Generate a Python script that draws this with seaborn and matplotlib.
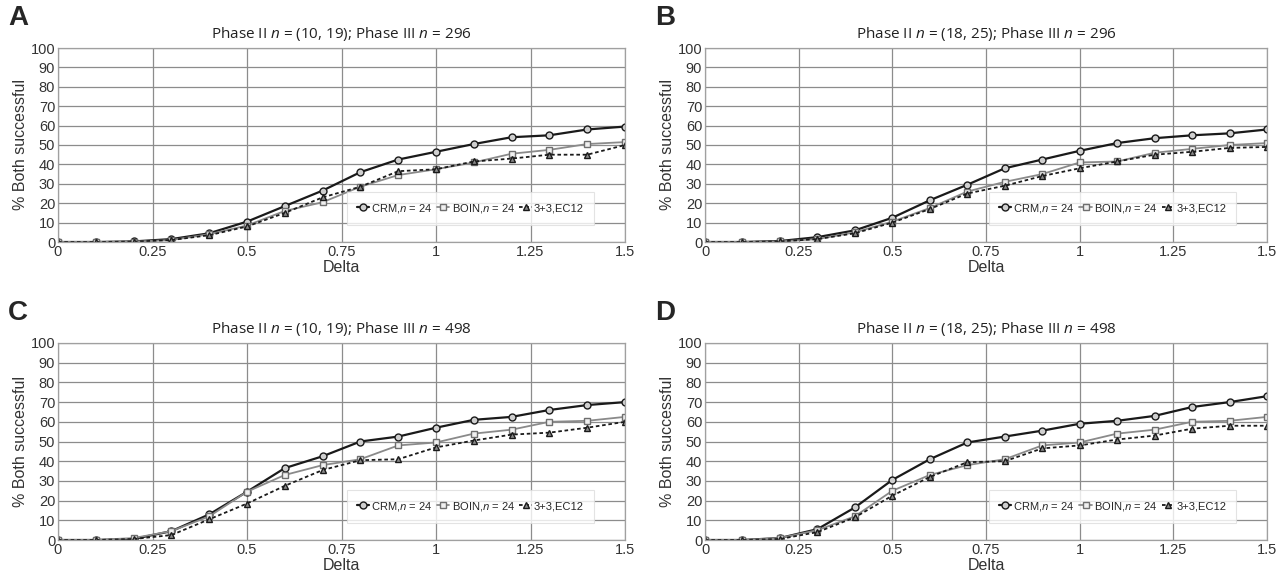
import matplotlib

matplotlib.use("Agg")
import matplotlib.pyplot as plt
import numpy as np
import pandas as pd
import seaborn as sns

DELTA = [0.0, 0.1, 0.2, 0.3, 0.4, 0.5, 0.6, 0.7, 0.8, 0.9, 1.0, 1.1, 1.2, 1.3, 1.4, 1.5]

# % both successful
CRM_A = [0, 0, 0.3, 1.5, 4.5, 10.5, 18.5, 26.5, 36, 42.5, 46.5, 50.5, 54, 55, 58, 59.5]
BOIN_A = [0, 0, 0.2, 1, 4, 8.5, 16, 20.5, 28.5, 34.5, 37.5, 41, 45.5, 47.5, 50.5, 51.5]
TPT_A = [0, 0, 0.2, 1, 3.5, 8, 15, 23, 28.5, 36.5, 37.5, 41.5, 43, 45, 45, 50]

CRM_B = [0, 0, 0.5, 2.5, 6, 12.5, 21.5, 29.5, 38, 42.5, 47, 51, 53.5, 55, 56, 58]
BOIN_B = [0, 0, 0.3, 1.5, 5, 10.5, 17.5, 26, 31, 35, 41, 41.5, 46, 48, 50, 51]
TPT_B = [0, 0, 0.3, 1.5, 4.5, 10, 17, 25, 29, 34, 38, 41.5, 45, 46.5, 48.5, 49]

CRM_C = [0, 0, 0.5, 4.5, 13, 24.5, 36.5, 42.5, 50, 52.5, 57, 61, 62.5, 66, 68.5, 70]
BOIN_C = [0, 0, 1, 4.5, 12, 24.5, 33, 38, 41, 48, 49.5, 54, 56, 60, 60.5, 62.5]
TPT_C = [0, 0, 0.5, 2.5, 10.5, 18.5, 27.5, 35.5, 40.5, 41, 47, 50.5, 53.5, 54.5, 57, 60]

CRM_D = [0, 0, 1, 5.5, 16.5, 30.5, 41, 49.5, 52.5, 55.5, 59, 60.5, 63, 67.5, 70, 73]
BOIN_D = [0, 0, 1, 5, 12, 25, 33, 38, 41, 48, 49.5, 54, 56, 60, 60.5, 62.5]
TPT_D = [0, 0, 0.5, 4, 11.5, 22.5, 32, 39.5, 40, 46.5, 48, 51, 53, 56.5, 58, 58]

PANELS = [
    ("A", "Phase II $n$ = (10, 19); Phase III $n$ = 296", CRM_A, BOIN_A, TPT_A),
    ("B", "Phase II $n$ = (18, 25); Phase III $n$ = 296", CRM_B, BOIN_B, TPT_B),
    ("C", "Phase II $n$ = (10, 19); Phase III $n$ = 498", CRM_C, BOIN_C, TPT_C),
    ("D", "Phase II $n$ = (18, 25); Phase III $n$ = 498", CRM_D, BOIN_D, TPT_D),
]

SERIES = ["CRM,$n$ = 24", "BOIN,$n$ = 24", "3+3,EC12"]
STYLES = {
    SERIES[0]: dict(color="#1a1a1a", ls="-", lw=1.6, marker="o", mfc="#cfcfcf", mec="#1a1a1a", ms=5),
    SERIES[1]: dict(color="#8a8a8a", ls="-", lw=1.3, marker="s", mfc="#f0f0f0", mec="#6e6e6e", ms=5),
    SERIES[2]: dict(color="#1a1a1a", ls=(0, (2, 1.5)), lw=1.3, marker="^", mfc="#8a8a8a", mec="#1a1a1a", ms=5),
}

sns.set_style("white")
plt.rcParams["font.family"] = ["Liberation Sans", "DejaVu Sans"]
plt.rcParams["mathtext.fontset"] = "custom"
plt.rcParams["mathtext.it"] = "Open Sans:italic"
plt.rcParams["mathtext.rm"] = "Open Sans"

fig = plt.figure(figsize=(12.87, 5.84), dpi=100)
W, H = 1287, 584
boxes = [(58, 48, 625, 242), (705, 48, 1267, 242), (58, 343, 625, 540), (705, 343, 1267, 540)]

for (letter, title, crm, boin, tpt), (x0, y0, x1, y1) in zip(PANELS, boxes):
    ax = fig.add_axes([x0 / W, 1 - y1 / H, (x1 - x0) / W, (y1 - y0) / H])
    df = pd.DataFrame({"Delta": DELTA * 3,
                       "pct": crm + boin + tpt,
                       "method": [SERIES[0]] * 16 + [SERIES[1]] * 16 + [SERIES[2]] * 16})
    for name in SERIES:
        st = STYLES[name]
        sns.lineplot(data=df[df["method"] == name], x="Delta", y="pct", ax=ax,
                     color=st["color"], linestyle=st["ls"], linewidth=st["lw"],
                     marker=st["marker"], markerfacecolor=st["mfc"],
                     markeredgecolor=st["mec"], markersize=st["ms"],
                     markeredgewidth=1.0, label=name)
    ax.set_xlim(0, 1.5)
    ax.set_ylim(0, 100)
    ax.set_xticks([0, 0.25, 0.5, 0.75, 1, 1.25, 1.5])
    ax.set_xticklabels(["0", "0.25", "0.5", "0.75", "1", "1.25", "1.5"])
    ax.set_yticks(range(0, 101, 10))
    ax.grid(True, color="#8c8c8c", lw=0.9)
    ax.set_axisbelow(True)
    for sp in ax.spines.values():
        sp.set_color("#a0a0a0")
        sp.set_linewidth(0.9)
    ax.tick_params(axis="both", labelsize=10.5, length=0, pad=2, colors="#333333")
    ax.set_xlabel("Delta", fontsize=11.5, labelpad=1, color="#333333")
    ax.set_ylabel("% Both successful", fontsize=11.5, labelpad=2, color="#333333")
    ax.set_title(title, fontsize=11, family="Open Sans", pad=7, color="#222222")
    fig.text((x0 - 50) / W, 1 - (y0 - 30) / H, letter, fontsize=20, fontweight="bold",
             ha="left", va="center")
    leg = ax.legend(loc="lower right", bbox_to_anchor=(0.955, 0.06), ncol=3, fontsize=8,
                    handlelength=1.1, handletextpad=0.2, columnspacing=0.4,
                    frameon=True, fancybox=False, borderpad=0.9)
    leg.get_frame().set_edgecolor("#dddddd")
    leg.get_frame().set_linewidth(0.8)

fig.savefig("out.png", dpi=100)
